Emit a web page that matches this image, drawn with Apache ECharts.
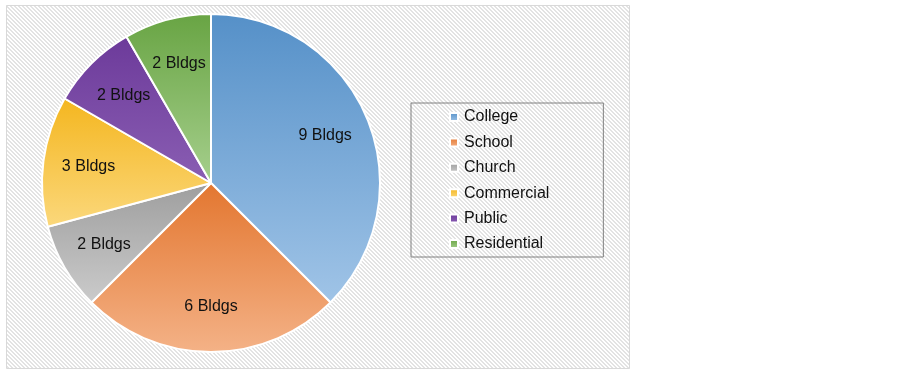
<!DOCTYPE html>
<html>
<head>
<meta charset="utf-8">
<script src="https://cdn.jsdelivr.net/npm/echarts@6/dist/echarts.min.js"></script>
<style>
  html, body { margin: 0; padding: 0; background: #fff; }
  #chart { width: 903px; height: 372px; }
</style>
</head>
<body>
<div id="chart"></div>
<script>
// building counts by type
const categories = ["College", "School", "Church", "Commercial", "Public", "Residential"];
const buildings = [9, 6, 2, 3, 2, 2];
const colorTop = ["#5590c8", "#e3762f", "#9e9e9e", "#f4b61f", "#6c3a9a", "#68a443"];
const colorBottom = ["#a0c4e7", "#f4b287", "#cbcbcb", "#fbd87c", "#8a5eb3", "#a6cf8d"];

// light diagonal hatch used for the plot background
function hatch() {
  const c = document.createElement("canvas");
  c.width = 4; c.height = 4;
  const g = c.getContext("2d");
  g.fillStyle = "#ffffff";
  g.fillRect(0, 0, 4, 4);
  g.fillStyle = "#e3e3e3";
  for (let i = 0; i < 4; i++) {
    g.fillRect(i, i, 1, 1);
    g.fillRect((i + 1) % 4, i, 1, 1);
  }
  return c;
}

const chart = echarts.init(document.getElementById("chart"));

const pieData = categories.map((name, i) => ({
  name,
  value: buildings[i],
  itemStyle: {
    color: new echarts.graphic.LinearGradient(0, 0, 0, 1, [
      { offset: 0, color: colorTop[i] },
      { offset: 1, color: colorBottom[i] },
    ]),
  },
}));

const option = {
  backgroundColor: "#ffffff",
  animation: false,
  graphic: [
    {
      type: "rect",
      z: -10,
      silent: true,
      shape: { x: 6.5, y: 5.5, width: 623, height: 363 },
      style: { fill: { image: hatch(), repeat: "repeat" }, stroke: "#d9d9d9", lineWidth: 1 },
    },
  ],
  legend: {
    orient: "vertical",
    left: 411,
    top: 103,
    data: categories,
    icon: "rect",
    itemWidth: 8,
    itemHeight: 8,
    itemGap: 9.4,
    padding: [6, 54, 5, 38],
    borderColor: "#808080",
    borderWidth: 1,
    backgroundColor: "transparent",
    selectedMode: false,
    textStyle: {
      fontFamily: "Liberation Sans, Arial, sans-serif",
      fontSize: 16,
      lineHeight: 16,
      color: "#111111",
      padding: [0, 0, 0, 1],
    },
  },
  series: [
    {
      name: "Buildings",
      type: "pie",
      center: [211, 183],
      radius: 169,
      startAngle: 90,
      clockwise: true,
      label: { show: false },
      labelLine: { show: false },
      itemStyle: { borderColor: "#ffffff", borderWidth: 2 },
      emphasis: { disabled: true },
      data: pieData,
    },
    {
      // transparent ring only used to place the data labels further out
      name: "Labels",
      type: "pie",
      center: [211, 183],
      radius: [72, 169],
      startAngle: 90,
      clockwise: true,
      silent: true,
      z: 3,
      itemStyle: { color: "rgba(0,0,0,0)", borderWidth: 0 },
      label: {
        show: true,
        position: "inside",
        formatter: "{c} Bldgs",
        fontFamily: "Liberation Sans, Arial, sans-serif",
        fontSize: 16,
        color: "#111111",
      },
      labelLine: { show: false },
      emphasis: { disabled: true },
      data: categories.map((name, i) => ({ name, value: buildings[i] })),
    },
  ],
};

chart.setOption(option);
</script>
</body>
</html>
